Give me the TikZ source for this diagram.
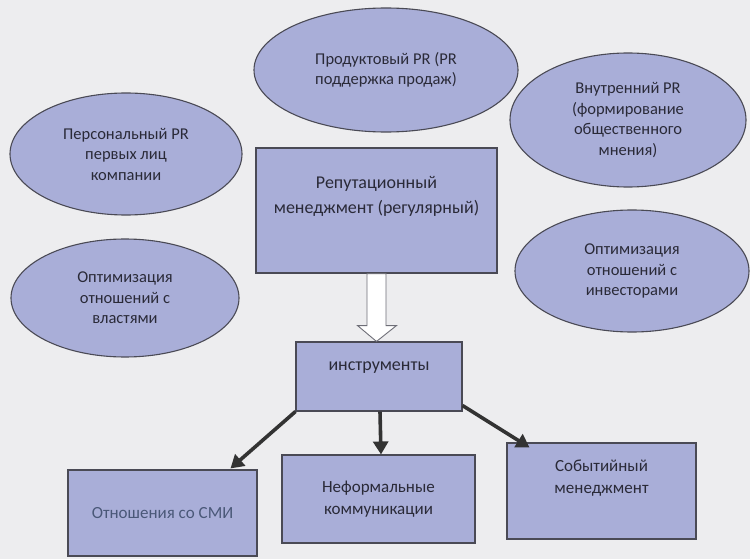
\documentclass[tikz,border=0pt]{standalone}
\usepackage{fontspec}
\setmainfont{Carlito}
\usetikzlibrary{shapes.geometric,arrows.meta,calc}
\definecolor{bg}{HTML}{EDEDEF}
\definecolor{lav}{HTML}{A9AED8}
\definecolor{edge}{HTML}{4A4A55}
\definecolor{txt}{HTML}{2A2A38}
\definecolor{txtb}{HTML}{4A5878}
\begin{document}
\begin{tikzpicture}[x=1pt,y=-1pt,
  oval/.style={ellipse,draw=edge,line width=1.1pt,fill=lav,inner sep=0pt,
    text=txt,align=center,font=\fontsize{16.5}{20.5}\selectfont},
  box/.style={rectangle,draw=edge,line width=1.1pt,fill=lav,inner sep=0pt,
    text=txt,align=center,font=\fontsize{17}{22}\selectfont},
  blk/.style={draw=black!80,line width=3.6pt,-{Triangle[length=13pt,width=15pt]}},
  hollow/.style={draw=edge!80,line width=0.9pt,fill=white}]
\fill[bg] (0,0) rectangle (750,559);
\useasboundingbox (0,0) rectangle (750,559);

\node[oval,minimum width=264,minimum height=124] (prod) at (386,70) {Продуктовый PR (PR\\поддержка продаж)};
\node[oval,minimum width=232,minimum height=122] (pers) at (126,154) {Персональный PR\\первых лиц\\компании};
\node[oval,minimum width=236,minimum height=134] (vnutr) at (628,120) {Внутренний PR\\(формирование\\общественного\\мнения)};
\node[oval,minimum width=228,minimum height=118] (vlast) at (125,298) {Оптимизация\\отношений с\\властями};
\node[oval,minimum width=234,minimum height=122] (invest) at (632,271) {Оптимизация\\отношений с\\инвесторами};

\node[box,minimum width=241,minimum height=125,font=\fontsize{18}{25}\selectfont] (main) at (376.5,210.5) {Репутационный\\менеджмент (регулярный)\\[6pt]};
\node[box,minimum width=166,minimum height=69,font=\fontsize{18}{22}\selectfont] (instr) at (379,376.5) {инструменты\\[-2pt]};

\node[box,minimum width=189,minimum height=86,text=txtb] (smi) at (162.5,513) {Отношения со СМИ};
\node[box,minimum width=193,minimum height=88] (neform) at (378.5,499) {Неформальные\\коммуникации};
\node[box,minimum width=189,minimum height=96] (sobyt) at (601.5,491) {Событийный\\менеджмент\\[6pt]};

% hollow arrow main -> instr
\draw[hollow] ($(main.south)+(-9.5,0)$) -- ($(main.south)+(9.5,0)$)
  -- ($(main.south)+(9.5,52)$) -- ($(main.south)+(20,52)$)
  -- ($(instr.north)+(-2.5,0)$) -- ($(main.south)+(-19,52)$)
  -- ($(main.south)+(-9.5,52)$) -- cycle;

% black arrows
\draw[blk] (instr.south west) -- ($(smi.north)+(68,-1)$);
\draw[blk] ($(instr.south)+(1,0)$) -- ($(neform.north)+(2.5,0)$);
\draw[blk] ($(instr.south east)+(0,-6)$) -- ($(sobyt.north)+(-72,5)$);
\end{tikzpicture}
\end{document}
